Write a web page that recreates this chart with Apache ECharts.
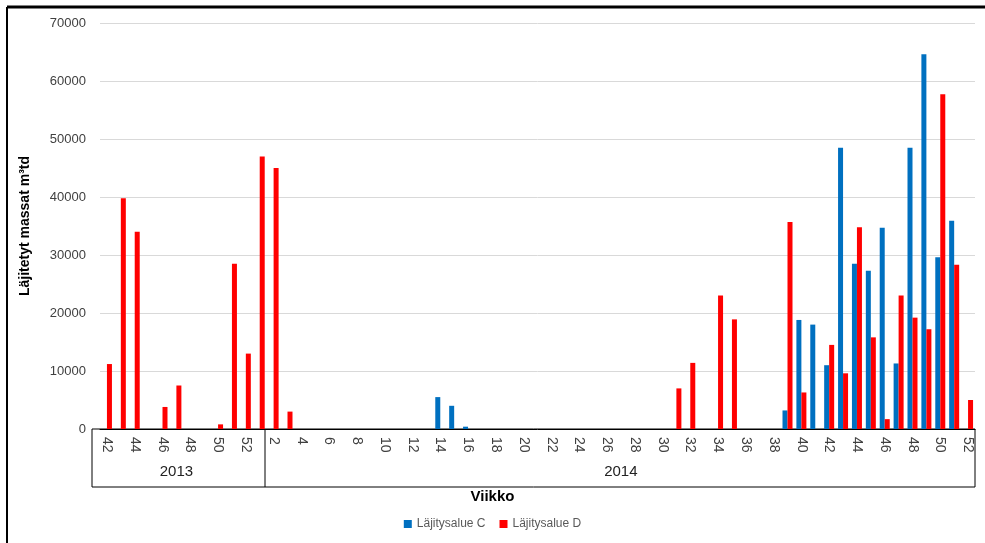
<!DOCTYPE html>
<html><head><meta charset="utf-8">
<script src="https://cdn.jsdelivr.net/npm/echarts@6/dist/echarts.min.js"></script>
<style>html,body{margin:0;background:#fff}#c{width:985px;height:543px}</style>
</head><body><div id="c"></div>
<script>
// weeks 42-52 of 2013, 1-52 of 2014
let weeks = [];
for (let w = 42; w <= 52; w++) weeks.push(w);
for (let w = 1; w <= 52; w++) weeks.push(w);
let years = weeks.map((w, i) => i === 5 ? '2013' : (i === 37 ? '2014' : ''));

// values by index (0 = 2013 week 42)
let seriesC = new Array(63).fill(null);
let seriesD = new Array(63).fill(null);
let cVals = {14: 5500, 15: 4000, 16: 400, 39: 3200, 40: 18800, 41: 18000, 42: 11000, 43: 48500, 44: 28500,
             45: 27300, 46: 34700, 47: 11300, 48: 48500, 49: 64600, 50: 29600, 51: 35900};
let dVals2013 = {42: 11200, 43: 39800, 44: 34000, 46: 3800, 47: 7500, 50: 800, 51: 28500, 52: 13000};
let dVals2014 = {1: 47000, 2: 45000, 3: 3000, 31: 7000, 32: 11400, 34: 23000, 35: 18900, 39: 35700, 40: 6300,
                 42: 14500, 43: 9600, 44: 34800, 45: 15800, 46: 1700, 47: 23000, 48: 19200, 49: 17200,
                 50: 57700, 51: 28300, 52: 5000};
for (let k in cVals) seriesC[10 + +k] = cVals[k];
for (let k in dVals2013) seriesD[k - 42] = dVals2013[k];
for (let k in dVals2014) seriesD[10 + +k] = dVals2014[k];

let chart = echarts.init(document.getElementById('c'));
chart.setOption({
    animation: false,
    textStyle: {fontFamily: 'Arial, Liberation Sans, sans-serif'},
    grid: {left: 100, right: 10, top: 23, bottom: 114},
    legend: {
        bottom: 8, left: 'center', itemWidth: 8, itemHeight: 8, icon: 'rect', itemGap: 14,
        textStyle: {color: '#595959', fontSize: 12}
    },
    xAxis: [{
        type: 'category', data: weeks,
        axisLine: {lineStyle: {color: '#000'}},
        axisTick: {show: false},
        axisLabel: {interval: (i) => i % 2 === 0, rotate: -90, color: '#404040', fontSize: 14, margin: 8}
    }, {
        type: 'category', data: years, position: 'bottom',
        axisLine: {show: false}, axisTick: {show: false},
        axisLabel: {interval: 0, color: '#222', fontSize: 15, margin: 35}
    }],
    yAxis: {
        type: 'value', min: 0, max: 70000, interval: 10000,
        name: 'Läjitetyt massat m³td', nameLocation: 'middle', nameGap: 68,
        nameTextStyle: {fontWeight: 'bold', fontSize: 14, color: '#000'},
        axisLabel: {color: '#404040', fontSize: 13, margin: 14, formatter: (v) => String(v)},
        splitLine: {lineStyle: {color: '#d9d9d9'}}
    },
    series: [
        {name: 'Läjitysalue C', type: 'bar', data: seriesC, barWidth: 5, barGap: '0%', itemStyle: {color: '#0070c0'}},
        {name: 'Läjitysalue D', type: 'bar', data: seriesD, barWidth: 5, itemStyle: {color: '#ff0000'}}
    ],
    graphic: [
        {type: 'text', left: 'center', top: 489, style: {text: 'Viikko', font: 'bold 15px Arial, Liberation Sans, sans-serif', fill: '#000'}},
        {type: 'rect', shape: {x: 92, y: 429, width: 883, height: 58}, style: {fill: 'none', stroke: '#000', lineWidth: 1}},
        {type: 'line', shape: {x1: 265, y1: 429, x2: 265, y2: 487}, style: {stroke: '#000', lineWidth: 1}},
        {type: 'line', shape: {x1: 7, y1: 7, x2: 985, y2: 7}, style: {stroke: '#000', lineWidth: 3}},
        {type: 'line', shape: {x1: 7, y1: 7, x2: 7, y2: 543}, style: {stroke: '#000', lineWidth: 2}}
    ]
});
</script></body></html>
